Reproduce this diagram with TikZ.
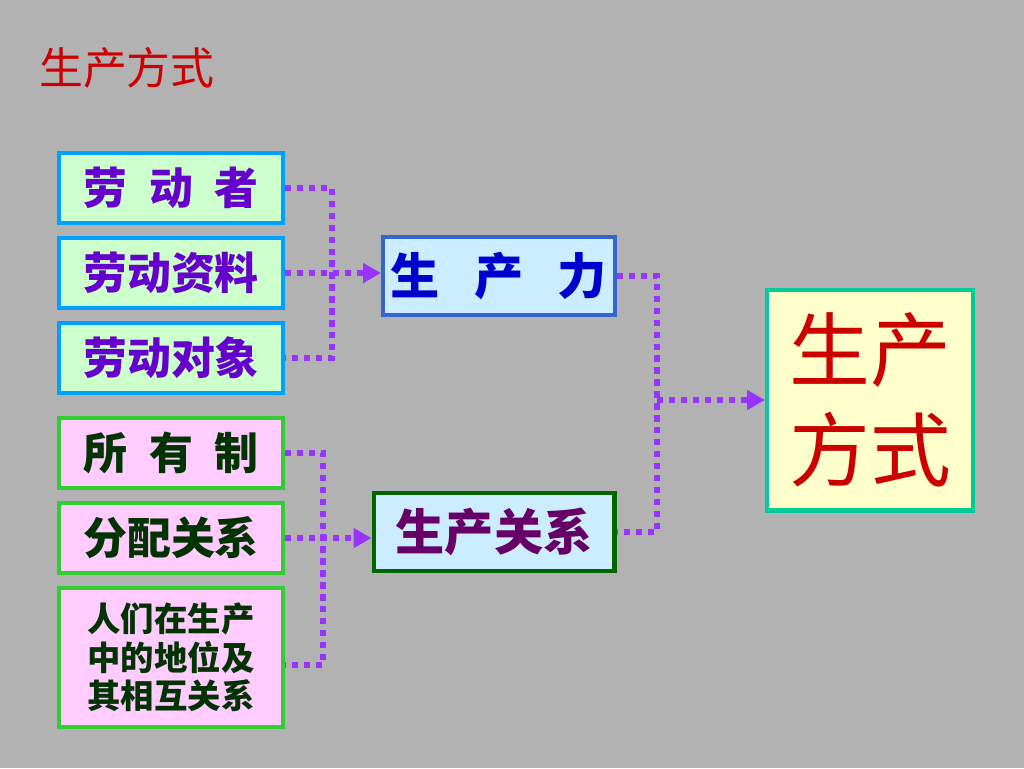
\documentclass[tikz,border=0pt]{standalone}
\usepackage{fontspec}
\newfontfamily\cjk{Noto Sans CJK SC}
\usepackage{tikz}
\usetikzlibrary{arrows.meta,positioning}
\usepackage{xcolor}
\definecolor{bggray}{RGB}{178,178,178}
\definecolor{lnpurple}{RGB}{153,51,255}
\definecolor{labblue}{RGB}{0,160,255}
\definecolor{labgreen}{RGB}{204,255,204}
\definecolor{labtext}{RGB}{102,0,204}
\definecolor{relgreen}{RGB}{51,204,51}
\definecolor{relpink}{RGB}{255,204,255}
\definecolor{reltext}{RGB}{0,51,0}
\definecolor{prodblue}{RGB}{51,102,204}
\definecolor{paleblue}{RGB}{204,236,255}
\definecolor{prodtext}{RGB}{0,0,204}
\definecolor{darkgreen}{RGB}{0,102,0}
\definecolor{reltext2}{RGB}{102,0,102}
\definecolor{modeteal}{RGB}{0,204,153}
\definecolor{modefill}{RGB}{255,255,204}
\definecolor{modered}{RGB}{204,0,0}
\tikzstyle{labour} = [rectangle, minimum width=4.48cm, minimum height=1.4cm, text centered, draw=labblue, fill=labgreen, line width=2.3pt, text=labtext, font=\cjk\bfseries\fontsize{25}{30}\selectfont]
\tikzstyle{relation} = [labour, draw=relgreen, fill=relpink, text=reltext]
\tikzstyle{force} = [rectangle, minimum height=1.55cm, text centered, line width=2.3pt, fill=paleblue, font=\cjk\bfseries\fontsize{28}{32}\selectfont]
\tikzstyle{link} = [line width=3.6pt, color=lnpurple, dash pattern=on 3.6pt off 3.2pt]
\tikzstyle{arrow} = [link, -{Triangle[length=0.36cm, width=0.38cm]}]
\begin{document}
\begin{tikzpicture}[x=0.02cm, y=-0.02cm]
\fill[bggray] (0,0) rectangle (1024,768);
\useasboundingbox (0,0) rectangle (1024,768);

% Title
\node (title) at (127,68) [text=modered, font=\cjk\fontsize{25}{30}\selectfont] {生产方式};

% Productive forces
\node (lab1) at (171,188) [labour] {劳\hspace{0.5em}动\hspace{0.5em}者};
\node (lab2) [labour, below=0.22cm of lab1] {劳动资料};
\node (lab3) [labour, below=0.22cm of lab2] {劳动对象};
\node (prod) at (499,276) [force, minimum width=4.64cm, draw=prodblue, text=prodtext] {生\hspace{0.7em}产\hspace{0.7em}力};

% Relations of production
\node (own) at (171,453) [relation] {所\hspace{0.5em}有\hspace{0.5em}制};
\node (dist) [relation, below=0.22cm of own] {分配关系};
\node (peop) [relation, below=0.22cm of dist, minimum height=2.78cm, align=center, font=\cjk\bfseries\fontsize{19}{22}\selectfont] {人们在生产\\中的地位及\\其相互关系};
\node (rel) at (494,532) [force, minimum width=4.82cm, draw=darkgreen, text=reltext2] {生产关系};

% Mode of production
\node (mode) at (870,400) [rectangle, minimum width=4.12cm, minimum height=4.42cm, draw=modeteal, fill=modefill, line width=2.3pt, text=modered, align=center, font=\cjk\fontsize{46}{57}\selectfont] {生产\\方式};

% Bus points
\coordinate (busA) at (332,273);
\coordinate (busB) at (323,538);
\coordinate (busC) at (657,400);

% Connectors
\draw[link] (lab1.east) -| (busA) |- (lab3.east);
\draw[arrow] (lab2.east) -- (lab2.east -| prod.west);
\draw[link] (own.east) -| (busB) |- ([yshift=-0.15cm]peop.east);
\draw[arrow] (dist.east) -- (dist.east -| rel.west);
\draw[link] (prod.east) -| (busC) |- (rel.east);
\draw[arrow] (busC) -- (mode.west);
\end{tikzpicture}
\end{document}
